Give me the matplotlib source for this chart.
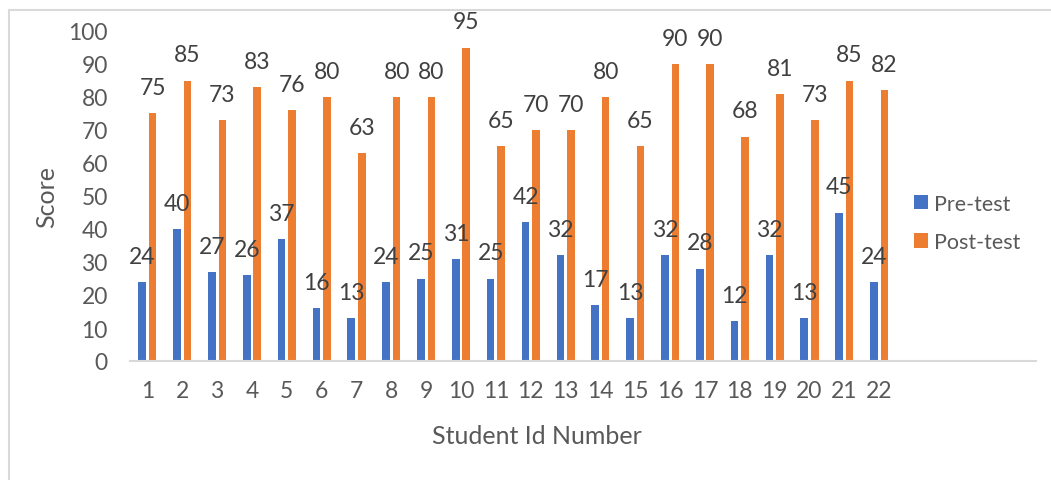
import matplotlib.pyplot as plt
from matplotlib.patches import Rectangle
import numpy as np

students = list(range(1, 23))
pre_test = [24, 40, 27, 26, 37, 16, 13, 24, 25, 31, 25, 42, 32, 17, 13, 32, 28, 12, 32, 13, 45, 24]
post_test = [75, 85, 73, 83, 76, 80, 63, 80, 80, 95, 65, 70, 70, 80, 65, 90, 90, 68, 81, 73, 85, 82]
n_slots = 26  # category axis keeps four empty slots on the right

BLUE = '#4472C4'
ORANGE = '#ED7D31'
TEXT = '#595959'

plt.rcParams['font.family'] = ['Lato', 'DejaVu Sans']

W, H = 1051, 481
fig = plt.figure(figsize=(W / 100, H / 100), dpi=100)
ax = fig.add_axes([130 / W, 1 - 362 / H, (1036 - 130) / W, (362 - 32) / H])

x = np.array(students)
w = 0.22
off = 0.15
b1 = ax.bar(x - off, pre_test, w, color=BLUE, label='Pre-test')
b2 = ax.bar(x + off, post_test, w, color=ORANGE, label='Post-test')

for bars, vals in ((b1, pre_test), (b2, post_test)):
    for r, v in zip(bars, vals):
        ax.annotate(str(v), (r.get_x() + r.get_width() / 2, v),
                    xytext=(0, 18.5), textcoords='offset points',
                    ha='center', va='center', color='#404040', fontsize=16.5,
                    annotation_clip=False)

ax.set_xlim(0.5, n_slots + 0.5)
ax.set_ylim(0, 100)
ax.set_yticks(range(0, 101, 10))
ax.set_xticks(students)
ax.set_xticklabels([str(s) for s in students])
ax.tick_params(axis='both', length=0, colors=TEXT, labelsize=16.5)
ax.tick_params(axis='y', pad=16)
ax.tick_params(axis='x', pad=14)

for side in ('top', 'right', 'left'):
    ax.spines[side].set_visible(False)
ax.spines['bottom'].set_color('#D9D9D9')
ax.spines['bottom'].set_linewidth(1.5)

fig.text(47 / W, 1 - 197 / H, 'Score', rotation=90, ha='center', va='center',
         color=TEXT, fontsize=18)
fig.text(537 / W, 1 - 437 / H, 'Student Id Number', ha='center', va='center',
         color=TEXT, fontsize=18)

fig.legend(handles=[b1, b2], loc='center left',
           bbox_to_anchor=(914 / W, 1 - 224 / H), frameon=False,
           handlelength=0.65, handleheight=0.65, handletextpad=0.3,
           labelspacing=0.85, borderpad=0, borderaxespad=0,
           labelcolor=TEXT, fontsize=15.5)

# outer chart frame
fig.patches.append(Rectangle((9 / W, -0.1), 1.2, 1 - 11 / H + 0.1,
                             transform=fig.transFigure, fill=False,
                             edgecolor='#D9D9D9', linewidth=1.5))

fig.savefig('out.png', dpi=100)
